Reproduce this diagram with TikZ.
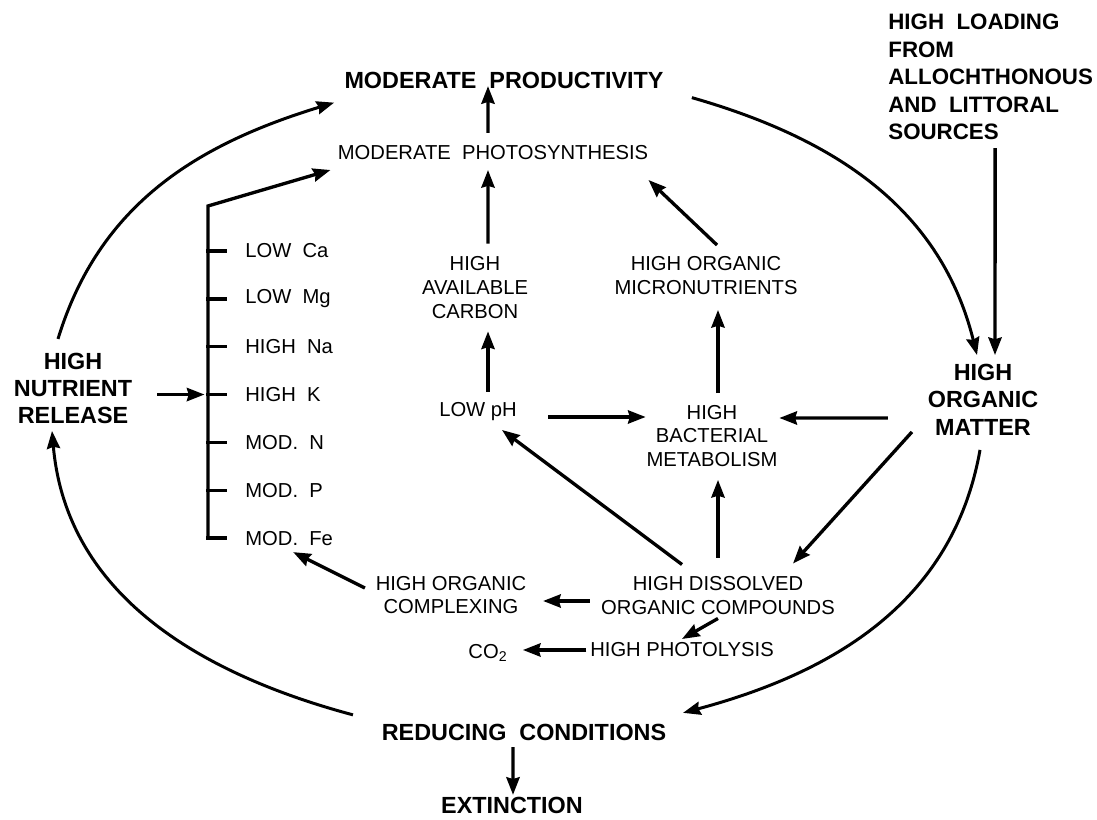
\documentclass[tikz,border=0pt]{standalone}
\usepackage{fontspec}
\setmainfont{Liberation Sans}
\usetikzlibrary{arrows.meta, calc}

\tikzset{
  bignode/.style={font=\fontsize{13.3}{15.6}\selectfont\bfseries, align=center, inner sep=2pt},
  smallnode/.style={font=\fontsize{11.5}{13.6}\selectfont, align=center, inner sep=2pt},
  arr/.style={-{Stealth[length=10pt, width=7.5pt, inset=1pt]}, line width=1.9pt},
  ringarr/.style={arr, line width=1.7pt},
  tick/.style={line width=1.9pt, line cap=rect}
}

\begin{document}
\begin{tikzpicture}
    \useasboundingbox (0,0) rectangle (21.94,16.4);

    % === Haut ===
    \node[bignode] (prod) at (10.08,14.80) {MODERATE~~PRODUCTIVITY};
    \node[smallnode] (photo) at (9.86,13.34) {MODERATE~~PHOTOSYNTHESIS};
    \node[bignode, font=\fontsize{12.7}{15.6}\selectfont\bfseries, align=left, anchor=west] (load) at (17.69,14.86)
        {HIGH~~LOADING\\FROM\\ALLOCHTHONOUS\\AND~~LITTORAL\\SOURCES};

    % === Centre ===
    \node[smallnode] (carbon) at (9.50,10.65) {HIGH\\AVAILABLE\\CARBON};
    \node[smallnode] (micro) at (14.12,10.88) {HIGH ORGANIC\\MICRONUTRIENTS};
    \node[bignode] (nutr) at (1.46,8.63) {HIGH\\NUTRIENT\\RELEASE};
    \node[bignode] (matter) at (19.66,8.41) {HIGH\\ORGANIC\\MATTER};
    \node[smallnode] (lowph) at (9.56,8.16) {LOW pH};
    \node[smallnode] (bact) at (14.24,7.68) {HIGH\\BACTERIAL\\METABOLISM};

    % === Bas ===
    \node[smallnode] (dissolved) at (14.36,4.49) {HIGH DISSOLVED\\ORGANIC COMPOUNDS};
    \node[smallnode] (complex) at (9.02,4.50) {HIGH ORGANIC\\COMPLEXING};
    \node[smallnode] (photolysis) at (13.64,3.40) {HIGH PHOTOLYSIS};
    \node[smallnode] (co2) at (9.76,3.34) {CO\textsubscript{2}};
    \node[bignode] (reduc) at (10.48,1.76) {REDUCING~~CONDITIONS};
    \node[bignode] (ext) at (10.24,0.30) {EXTINCTION};

    % Accolade des elements
    \coordinate (btop) at (4.16,12.28);
    \foreach \lab [count=\i] in {LOW~~Ca, LOW~~Mg, HIGH~~Na, HIGH~~K, MOD.~~N, MOD.~~P, MOD.~~Fe} {
        \node[smallnode, anchor=west] (el\i) at (4.83,{11.38-(\i-1)*0.957}) {\lab};
        \draw[tick] (btop |- el\i.west) -- ++(0.34,0);
    }
    \draw[arr] (btop |- el7.west) -- (btop) -- ([shift={(-0.07,-0.12)}]photo.south west);
    \draw[arr, shorten <=0.43cm, shorten >=2pt] (nutr.east |- el4.west) -- (btop |- el4.west);

    % Fleches du centre
    \draw[arr] ([xshift=-0.1cm, yshift=0.18cm]photo.north) -- ([xshift=-0.32cm, yshift=0.12cm]prod.south);
    \draw[arr] ([shift={(0.26,0.18)}]carbon.north) -- ([shift={(-0.1,-0.12)}]photo.south);
    \draw[arr] ([shift={(0.2,0.14)}]lowph.north) -- ([shift={(0.26,-0.18)}]carbon.south);
    \draw[arr] ([shift={(0.22,0.16)}]micro.north) -- ([shift={(-0.07,-0.32)}]photo.south east);
    \draw[arr] ([shift={(0.12,0.16)}]bact.north) -- ([shift={(0.24,-0.22)}]micro.south);
    \draw[arr] ([shift={(0.55,-0.1)}]lowph.east) -- ([shift={(0.06,0.38)}]bact.west);
    \draw[arr] ([shift={(-0.72,-0.37)}]matter.west) -- ([shift={(-0.04,0.36)}]bact.east);
    \draw[arr] ([shift={(-0.72,0.16)}]dissolved.north) -- ([shift={(0.48,-0.1)}]lowph.south);
    \draw[arr] ([yshift=0.3cm]dissolved.north) -- ([shift={(0.12,-0.18)}]bact.south);
    \draw[arr] ([shift={(-0.24,0.14)}]matter.south west) -- ([shift={(1.5,0.18)}]dissolved.north);
    \draw[arr] ([shift={(-0.15,-0.11)}]dissolved.west) -- ([shift={(0.26,-0.12)}]complex.east);
    \draw[arr] (dissolved.south) -- (photolysis.north);
    \draw[arr, shorten >=0.23cm] (photolysis.west) -- (photolysis.west -| co2.east);
    \draw[arr] ([shift={(-0.14,0.14)}]complex.west) -- ([shift={(0.08,-0.06)}]el7.south);
    \draw[arr] ([shift={(0.09,-0.09)}]load.south) -- ([shift={(0.24,0.1)}]matter.north);
    \draw[arr] ([shift={(-0.22,-0.06)}]reduc.south) -- ([shift={(0.02,-0.04)}]ext.north);

    % Grand cycle
    \draw[ringarr] ([shift={(0.49,-0.11)}]prod.south east) to[out=-16, in=104] ([shift={(-0.12,0.1)}]matter.north);
    \draw[ringarr] ([shift={(-0.06,-0.22)}]matter.south) to[out=-100, in=15] ([shift={(0.26,0.14)}]reduc.north east);
    \draw[ringarr] ([shift={(-0.5,0.1)}]reduc.north west) to[out=165, in=-85] ([shift={(-0.42,-0.06)}]nutr.south);
    \draw[ringarr] ([shift={(-0.3,0.2)}]nutr.north) to[out=73, in=-163] ([shift={(-0.13,-0.21)}]prod.south west);
\end{tikzpicture}
\end{document}
